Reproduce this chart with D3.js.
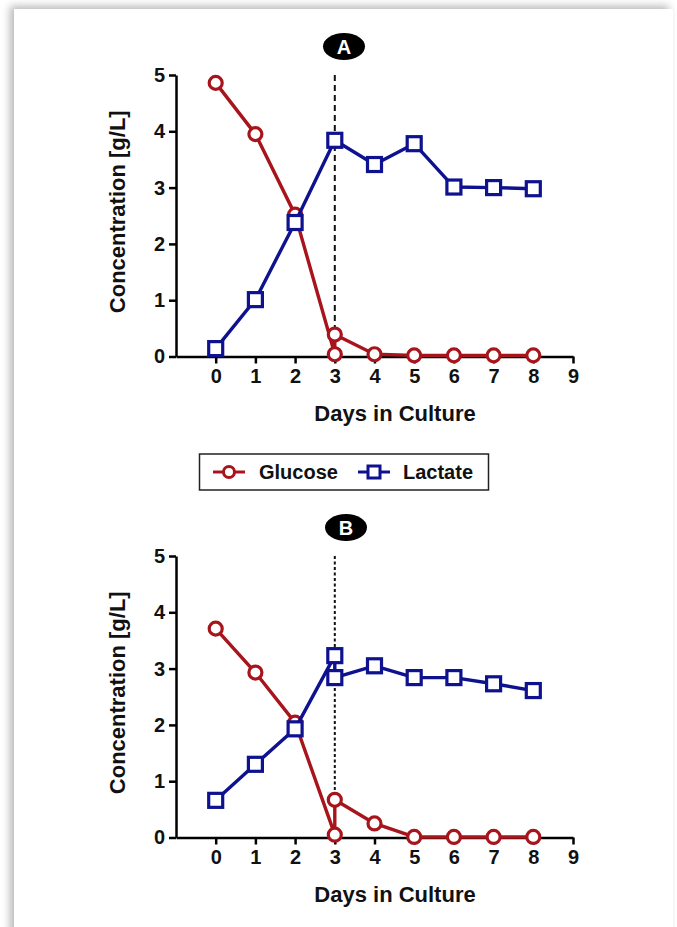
<!DOCTYPE html>
<html><head><meta charset="utf-8">
<script src="https://cdn.jsdelivr.net/npm/d3@7"></script>
<style>
html,body{margin:0;padding:0;background:#fff;}
#page{position:absolute;left:14px;top:9px;width:659px;height:930px;background:#fff;box-shadow:-4px -3px 8px rgba(0,0,0,0.28);}
svg{position:absolute;left:0;top:0;}
</style></head><body>
<div id="page"></div>
<svg id="chart" width="677" height="927"></svg>
<script>
// Data (day values; day 3 has two measurements in some series)
const days = [0, 1, 2, 3, 3, 4, 5, 6, 7, 8];
const glucoseA = [4.86, 3.95, 2.52, 0.04, 0.39, 0.04, 0.02, 0.02, 0.02, 0.02];
const lactateDaysA = [0, 1, 2, 3, 4, 5, 6, 7, 8];
const lactateA = [0.14, 1.01, 2.38, 3.84, 3.41, 3.78, 3.01, 3.0, 2.98];
const glucoseB = [3.71, 2.93, 2.04, 0.05, 0.67, 0.25, 0.01, 0.01, 0.01, 0.01];
const lactateDaysB = [0, 1, 2, 3, 3, 4, 5, 6, 7, 8];
const lactateB = [0.66, 1.3, 1.93, 3.23, 2.84, 3.05, 2.84, 2.84, 2.73, 2.61];
const xTicks = [0, 1, 2, 3, 4, 5, 6, 7, 8, 9];
const yTicks = [0, 1, 2, 3, 4, 5];
const seriesNames = ["Glucose", "Lactate"];

const RED = "#a8141c", BLUE = "#0e128e";
const svg = d3.select("#chart");
const FONT = "'Liberation Sans', Arial, sans-serif";

function panel(cfg) {
  const x = d3.scaleLinear().domain([-1, 9]).range([176, 573]);
  const y = d3.scaleLinear().domain([0, 5]).range([cfg.y0, cfg.y0 - 281.5]);
  const g = svg.append("g");

  const xa = g.append("g").attr("transform", `translate(0,${cfg.y0})`)
    .call(d3.axisBottom(x).tickValues(xTicks).tickSize(7).tickSizeOuter(0).tickPadding(5).tickFormat(d3.format("d")));
  const ya = g.append("g").attr("transform", `translate(176,0)`)
    .call(d3.axisLeft(y).tickValues(yTicks).tickSize(7).tickSizeOuter(0).tickPadding(4).tickFormat(d3.format("d")));
  [xa, ya].forEach(a => {
    a.select(".domain").attr("stroke", "#000").attr("stroke-width", 2.5);
    a.selectAll(".tick line").attr("stroke", "#000").attr("stroke-width", 2.5);
    a.selectAll(".tick text").attr("fill", "#111").style("font-family", FONT)
      .style("font-weight", "bold").style("font-size", "20px");
  });

  // dashed reference line at day 3
  g.append("line").attr("x1", x(3)).attr("x2", x(3)).attr("y1", y(5)).attr("y2", y(0))
    .attr("stroke", "#111").attr("stroke-width", 2).attr("stroke-dasharray", cfg.dash);

  const line = d3.line().x(d => x(d[0])).y(d => y(d[1]));
  const gl = cfg.gDays.map((d, i) => [d, cfg.glu[i]]);
  const la = cfg.lDays.map((d, i) => [d, cfg.lac[i]]);

  g.append("path").datum(gl).attr("d", line).attr("fill", "none").attr("stroke", RED).attr("stroke-width", 3.4).attr("stroke-linejoin", "round");
  g.selectAll(".ci").data(gl).enter().append("circle")
    .attr("cx", d => x(d[0])).attr("cy", d => y(d[1])).attr("r", 6.5)
    .attr("fill", "#fff").attr("stroke", RED).attr("stroke-width", 3.2);

  g.append("path").datum(la).attr("d", line).attr("fill", "none").attr("stroke", BLUE).attr("stroke-width", 3.4).attr("stroke-linejoin", "round");
  g.selectAll(".sq").data(la).enter().append("rect")
    .attr("x", d => x(d[0]) - 7).attr("y", d => y(d[1]) - 7).attr("width", 14).attr("height", 14)
    .attr("fill", "#fff").attr("stroke", BLUE).attr("stroke-width", 3.2);

  // axis titles
  g.append("text").attr("x", 395).attr("y", cfg.y0 + 64).attr("text-anchor", "middle")
    .style("font-family", FONT).style("font-weight", "bold").style("font-size", "22px").attr("fill", "#111")
    .text("Days in Culture");
  g.append("text").attr("transform", `translate(125,${y(2.5) - 4}) rotate(-90)`).attr("text-anchor", "middle")
    .style("font-family", FONT).style("font-weight", "bold").style("font-size", "22px").attr("fill", "#111")
    .text("Concentration [g/L]");

  // panel letter badge
  g.append("ellipse").attr("cx", cfg.bx).attr("cy", cfg.by).attr("rx", 21).attr("ry", 13.5).attr("fill", "#000");
  g.append("text").attr("x", cfg.bx).attr("y", cfg.by + 7).attr("text-anchor", "middle")
    .style("font-family", FONT).style("font-weight", "bold").style("font-size", "20px").attr("fill", "#fff")
    .text(cfg.letter);
}

panel({y0: 356.5, dash: "6,4", gDays: days, glu: glucoseA, lDays: lactateDaysA, lac: lactateA, bx: 344, by: 46.5, letter: "A"});
panel({y0: 837.5, dash: "3,2.5", gDays: days, glu: glucoseB, lDays: lactateDaysB, lac: lactateB, bx: 346, by: 527.5, letter: "B"});

// legend
const lg = svg.append("g");
lg.append("rect").attr("x", 199.5).attr("y", 454).attr("width", 289).attr("height", 36)
  .attr("fill", "#fff").attr("stroke", "#222").attr("stroke-width", 1.5);
const items = [{name: seriesNames[0], color: RED, shape: "circle", x: 213, tx: 259},
               {name: seriesNames[1], color: BLUE, shape: "square", x: 358, tx: 403}];
items.forEach(it => {
  lg.append("line").attr("x1", it.x).attr("x2", it.x + 32).attr("y1", 472).attr("y2", 472)
    .attr("stroke", it.color).attr("stroke-width", 3);
  if (it.shape === "circle") {
    lg.append("circle").attr("cx", it.x + 16).attr("cy", 472).attr("r", 5.5)
      .attr("fill", "#fff").attr("stroke", it.color).attr("stroke-width", 3);
  } else {
    lg.append("rect").attr("x", it.x + 10).attr("y", 466).attr("width", 12).attr("height", 12)
      .attr("fill", "#fff").attr("stroke", it.color).attr("stroke-width", 3);
  }
  lg.append("text").attr("x", it.tx).attr("y", 479)
    .style("font-family", FONT).style("font-weight", "bold").style("font-size", "20px").attr("fill", "#111")
    .text(it.name);
});
</script>
</body></html>
